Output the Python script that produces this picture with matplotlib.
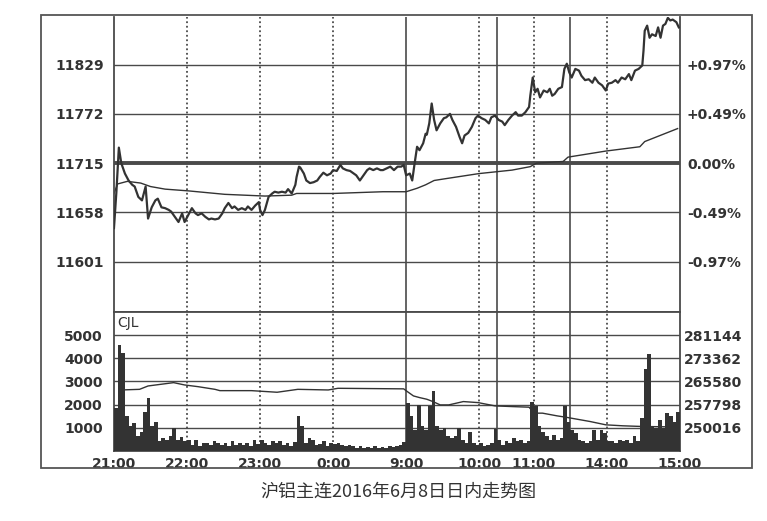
import numpy as np
import matplotlib.pyplot as plt
from matplotlib.patches import Rectangle

plt.rcParams['font.family'] = ['DejaVu Sans']

# x = trading minutes since 21:00
# (night 21:00-1:00, day 9:00-10:15, 10:30-11:30, 13:30-15:00 -> 465 min)
price_min = [0, 2, 4, 6, 9, 12, 15, 17, 20, 23,
             26, 28, 31, 34, 36, 39, 42, 45, 47, 50,
             53, 56, 58, 61, 64, 67, 69, 72, 75, 78,
             80, 83, 86, 89, 91, 94, 97, 99, 102, 105,
             108, 110, 113, 116, 119, 120, 122, 124, 127, 130,
             132, 135, 138, 141, 143, 146, 149, 150, 152, 153,
             156, 158, 161, 164, 167, 169, 172, 175, 178, 180,
             183, 186, 188, 191, 194, 197, 199, 202, 205, 208,
             210, 213, 216, 219, 221, 224, 227, 230, 233, 236,
             238, 240, 243, 245, 247, 249, 251, 254, 256, 257,
             259, 261, 263, 265, 268, 271, 273, 276, 278, 281,
             284, 286, 288, 291, 294, 297, 299, 302, 305, 308,
             310, 313, 316, 319, 321, 324, 327, 330, 332, 335,
             338, 341, 342, 344, 346, 348, 350, 353, 356, 358,
             360, 362, 365, 368, 370, 372, 374, 376, 379, 382,
             384, 387, 390, 393, 395, 398, 401, 404, 406, 409,
             412, 414, 417, 420, 423, 425, 428, 431, 434, 435,
             436, 438, 440, 442, 445, 447, 449, 451, 453, 455,
             457, 459, 462, 464]
price = [11640, 11682, 11733, 11715, 11703, 11695, 11690, 11688, 11676, 11672,
         11688, 11651, 11664, 11672, 11674, 11664, 11663, 11661, 11659, 11653,
         11647, 11657, 11647, 11655, 11663, 11657, 11655, 11657, 11653, 11650,
         11651, 11650, 11651, 11657, 11663, 11669, 11663, 11665, 11661, 11663,
         11661, 11665, 11661, 11666, 11670, 11661, 11655, 11661, 11676, 11680,
         11682, 11681, 11682, 11681, 11685, 11680, 11690, 11699, 11711, 11710,
         11703, 11695, 11692, 11693, 11695, 11699, 11704, 11701, 11703, 11707,
         11706, 11713, 11709, 11707, 11706, 11703, 11701, 11695, 11701, 11707,
         11709, 11707, 11709, 11707, 11707, 11709, 11711, 11707, 11711, 11711,
         11713, 11701, 11703, 11695, 11715, 11734, 11730, 11738, 11749, 11748,
         11761, 11784, 11765, 11753, 11761, 11767, 11768, 11772, 11765, 11757,
         11745, 11738, 11747, 11750, 11757, 11767, 11770, 11767, 11765, 11761,
         11768, 11770, 11765, 11763, 11759, 11765, 11770, 11774, 11770, 11770,
         11774, 11780, 11793, 11814, 11797, 11801, 11791, 11799, 11797, 11801,
         11793, 11795, 11801, 11803, 11824, 11830, 11820, 11814, 11824, 11822,
         11816, 11811, 11812, 11808, 11814, 11808, 11805, 11799, 11807, 11808,
         11811, 11808, 11814, 11812, 11818, 11811, 11822, 11824, 11828, 11845,
         11868, 11874, 11860, 11864, 11862, 11872, 11860, 11874, 11876, 11883,
         11880, 11881, 11878, 11872]

avg_min = [0, 3, 11, 22, 30, 42, 61, 91, 124, 146, 150, 180, 221, 240,
           249, 256, 263, 272, 300, 327, 342, 347, 369, 373, 404, 432, 436, 463]
avg_price = [11680, 11691, 11694, 11692, 11688, 11685, 11683, 11679, 11677, 11678,
             11680, 11680, 11682, 11682, 11686, 11690, 11695, 11697, 11703, 11707,
             11711, 11715, 11717, 11722, 11729, 11734, 11740, 11755]

# volume (CJL), one bar per 3 minutes
vol = [1860, 4570, 4210, 1520, 1060, 1210, 630, 840, 1700, 2270,
       1060, 1230, 410, 570, 480, 650, 980, 480, 600, 410,
       480, 270, 480, 230, 330, 350, 270, 410, 330, 270,
       330, 230, 410, 270, 330, 270, 330, 230, 480, 300,
       480, 350, 270, 410, 330, 410, 270, 330, 230, 380,
       1520, 1060, 330, 570, 480, 270, 300, 410, 230, 340,
       300, 340, 270, 200, 250, 200, 150, 200, 130, 180,
       150, 200, 130, 180, 150, 200, 160, 200, 250, 400,
       2070, 1530, 910, 1990, 1060, 910, 1930, 2600, 1060, 910,
       980, 630, 570, 650, 980, 480, 350, 840, 350, 270,
       350, 200, 270, 350, 950, 480, 270, 410, 350, 570,
       410, 480, 350, 410, 2130, 1930, 1060, 840, 650, 480,
       700, 480, 570, 1930, 1250, 910, 780, 480, 410, 350,
       410, 910, 480, 910, 780, 410, 410, 350, 480, 410,
       480, 350, 650, 410, 1430, 3560, 4180, 1060, 980, 1350,
       980, 1640, 1500, 1250, 1700]

# open interest
oi_min = [6, 21, 28, 49, 58, 69, 83, 87, 113, 134, 151, 176, 184, 238, 241,
          246, 251, 257, 262, 268, 275, 287, 299, 313, 327, 341, 345, 352,
          364, 371, 391, 404, 418, 434, 464]
oi = [262730, 262940, 264070, 265190, 264410, 263840, 262940, 262500, 262500,
      261960, 262940, 262730, 263290, 263100, 262180, 260730, 260170, 259610,
      258830, 257710, 257710, 258830, 258490, 257380, 257150, 256940, 254940,
      254940, 254030, 253590, 252140, 251020, 250690, 250460, 250300]

PREV = 11715
price_ticks = [11601, 11658, 11715, 11772, 11829]
vol_ticks = [1000, 2000, 3000, 4000, 5000]
oi_ticks = [250016, 257798, 265580, 273362, 281144]
time_ticks = [0, 60, 120, 180, 240, 300, 345, 405, 465]
time_labels = ['21:00', '22:00', '23:00', '0:00', '9:00', '10:00', '11:00', '14:00', '15:00']
session_lines = [240, 315, 375]
hour_lines = [60, 120, 180, 300, 345, 405]
title = '沪铝主连2016年6月8日日内走势图'

INK = '#333333'
GRID = '#4a4a4a'
FS = 10

fig = plt.figure(figsize=(7.67, 5.21), dpi=100)
ax = fig.add_axes([0.1486, 0.4012, 0.738, 0.5662])
axv = fig.add_axes([0.1486, 0.1344, 0.738, 0.2668])

# ---- price panel
ax.set_xlim(0, 465)
ax.set_ylim(11543, 11884)
for t in price_ticks:
    ax.axhline(t, color=GRID, lw=2.8 if t == PREV else 1.0, zorder=1)
for t in session_lines:
    ax.axvline(t, color=GRID, lw=1.2, zorder=1)
for t in hour_lines:
    ax.axvline(t, color=GRID, lw=1.3, ls=(0, (1, 1.5)), zorder=1)
ax.plot(avg_min, avg_price, color=INK, lw=1.0, zorder=2)
ax.plot(price_min, price, color=INK, lw=1.6, zorder=3)

ax.set_xticks([])
ax.set_yticks(price_ticks)
ax.set_yticklabels([str(t) for t in price_ticks], fontweight='bold', color=INK)
ax.tick_params(axis='y', length=0, pad=7, labelsize=FS)

axr = ax.twinx()
axr.set_ylim(ax.get_ylim())
axr.set_yticks(price_ticks)
pct = []
for t in price_ticks:
    p = (t - PREV) / PREV * 100
    pct.append('0.00%' if t == PREV else f'{p:+.2f}%')
axr.set_yticklabels(pct, fontweight='bold', color=INK)
axr.tick_params(axis='y', length=0, pad=5, labelsize=FS)

for a in (ax, axr):
    a.spines['top'].set_visible(False)
for s in ('left', 'right', 'bottom'):
    ax.spines[s].set_color(GRID)
    ax.spines[s].set_linewidth(1.3)
for s in axr.spines.values():
    s.set_visible(False)

# ---- volume panel
axv.set_xlim(0, 465)
axv.set_ylim(0, 6000)
for t in vol_ticks:
    axv.axhline(t, color=GRID, lw=1.0, zorder=1)
for t in session_lines:
    axv.axvline(t, color=GRID, lw=1.2, zorder=1)
for t in hour_lines:
    axv.axvline(t, color=GRID, lw=1.3, ls=(0, (1, 1.5)), zorder=1)

# open interest shares the volume grid via the right-hand scale
oi_scale = (oi_ticks[-1] - oi_ticks[0]) / (vol_ticks[-1] - vol_ticks[0])
oi_base = oi_ticks[0] - vol_ticks[0] * oi_scale
axv.plot(oi_min, (np.array(oi) - oi_base) / oi_scale, color=INK, lw=1.0, zorder=2)

xb = np.arange(len(vol)) * 3 + 1.5
axv.bar(xb, vol, width=3.0, color=INK, linewidth=0, zorder=3)
axv.text(2.5, 5830, 'CJL', fontsize=FS, color=INK, va='top', ha='left')

axv.set_yticks(vol_ticks)
axv.set_yticklabels([str(t) for t in vol_ticks], fontweight='bold', color=INK)
axv.tick_params(axis='y', length=0, pad=8, labelsize=FS)
axv.set_xticks(time_ticks)
axv.set_xticklabels(time_labels, fontweight='bold', color=INK)
axv.tick_params(axis='x', length=0, pad=4, labelsize=FS)

axvr = axv.twinx()
axvr.set_ylim(oi_base, oi_base + 6000 * oi_scale)
axvr.set_yticks(oi_ticks)
axvr.set_yticklabels([str(t) for t in oi_ticks], fontweight='bold', color=INK)
axvr.tick_params(axis='y', length=0, pad=3, labelsize=FS)
for s in axvr.spines.values():
    s.set_visible(False)
for s in axv.spines.values():
    s.set_color(GRID)
    s.set_linewidth(1.3)

# outer frame
fig.add_artist(Rectangle((0.0535, 0.1017), 0.9269, 0.8695, transform=fig.transFigure,
                         fill=False, lw=1.3, ec='#555555'))

fig.text(0.5196, 0.0557, title, fontsize=13, color=INK, ha='center', va='center',
         family=['Noto Sans CJK SC', 'DejaVu Sans'])

fig.savefig('out.png', dpi=100, facecolor='white')
